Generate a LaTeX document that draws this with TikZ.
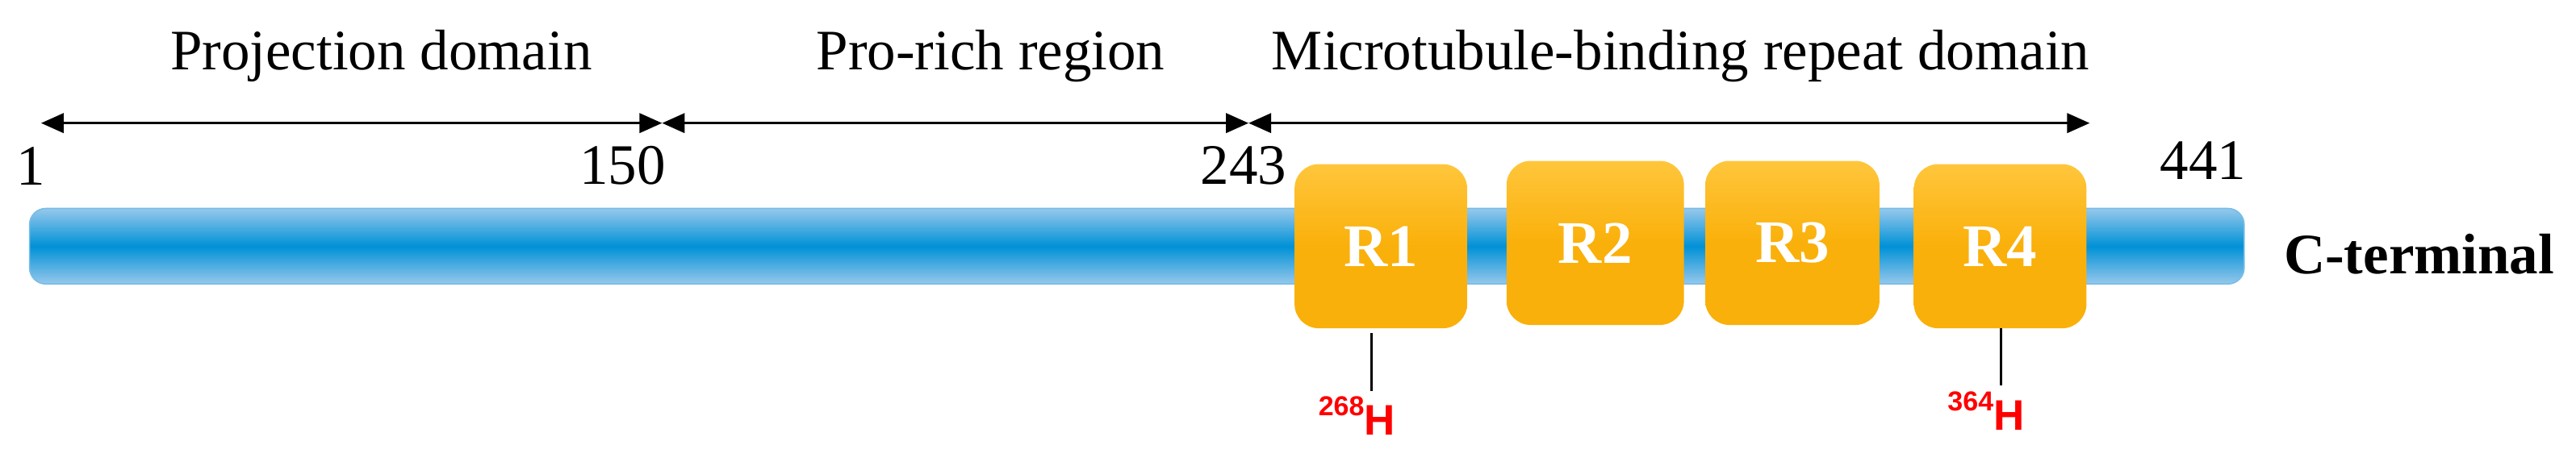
\documentclass[tikz,border=0pt]{standalone}
\usepackage{fontspec}
\setmainfont{Liberation Serif}
\newfontfamily\hfont{Liberation Sans}
\usetikzlibrary{arrows.meta}
\definecolor{bmid}{RGB}{0,145,214}
\definecolor{blite}{RGB}{150,200,235}
\definecolor{otop}{RGB}{255,198,60}
\definecolor{obot}{RGB}{250,176,10}
\tikzset{
 lbl/.style={font=\fontsize{35.5}{40}\selectfont},
 rtxt/.style={text=white,font=\bfseries\fontsize{37.5}{40}\selectfont},
 dom/.style={{Triangle[length=14pt,width=12pt]}-{Triangle[length=14pt,width=12pt]},line width=1.8pt},
 hl/.style={text=red,font=\hfont\bfseries\fontsize{26.5}{28}\selectfont},
}
\begin{document}
\begin{tikzpicture}[x=0.509pt,y=-0.509pt]
\useasboundingbox (0,0) rectangle (3136,562);
\shade[rounded corners=10pt,top color=blite,bottom color=blite,middle color=bmid] (36,254) rectangle (2732,346);
\draw[blite!80!bmid,line width=0.8pt,rounded corners=10pt] (36,254) rectangle (2732,346);
\foreach \n/\a/\b/\t/\u in {r1/1576/1786/200/400,r2/1834/2050/196/396,r3/2076/2288/196/396,r4/2330/2540/200/400}{
 \shade[rounded corners=15pt,top color=otop,bottom color=obot,middle color=obot] (\a,\t) rectangle (\b,\u);
 \coordinate (\n) at ({(\a+\b)/2},{(\t+\u)/2});
}
\node[rtxt] at (r1) {R1};
\node[rtxt] at (r2) {R2};
\node[rtxt] at (r3) {R3};
\node[rtxt] at (r4) {R4};
\coordinate (a0) at (50,150); \coordinate (a1) at (806,150);
\coordinate (a2) at (1520,150); \coordinate (a3) at (2544,150);
\draw[dom] (a0) -- (a1);
\draw[dom] (a1) -- (a2);
\draw[dom] (a2) -- (a3);
\node[lbl] (t1) at (464,68) {Projection domain};
\node[lbl] (t2) at (1206,68) {Pro-rich region};
\node[lbl] (t3) at (2046,68) {Microtubule-binding repeat domain};
\node[lbl] (n1) at (38,202) {1};
\node[lbl] (n2) at (758,202) {150};
\node[lbl] (n3) at (1514,202) {243};
\node[lbl] (n4) at (2682,196) {441};
\node[lbl,font=\bfseries\fontsize{35.5}{40}\selectfont] (ct) at (2945,310) {C-terminal};
\coordinate (p1t) at (1670,406); \coordinate (p1b) at (1670,476);
\coordinate (p4t) at (2436,400); \coordinate (p4b) at (2436,470);
\draw[line width=1.4pt] (p1t) -- (p1b);
\draw[line width=1.4pt] (p4t) -- (p4b);
\node[hl,anchor=north east,xshift=18pt] (h1) at (p1b) {\raisebox{0.45em}{\fontsize{17}{18}\selectfont 268}H};
\node[hl,anchor=north east,xshift=18pt] (h2) at (p4b) {\raisebox{0.45em}{\fontsize{17}{18}\selectfont 364}H};
\end{tikzpicture}
\end{document}
